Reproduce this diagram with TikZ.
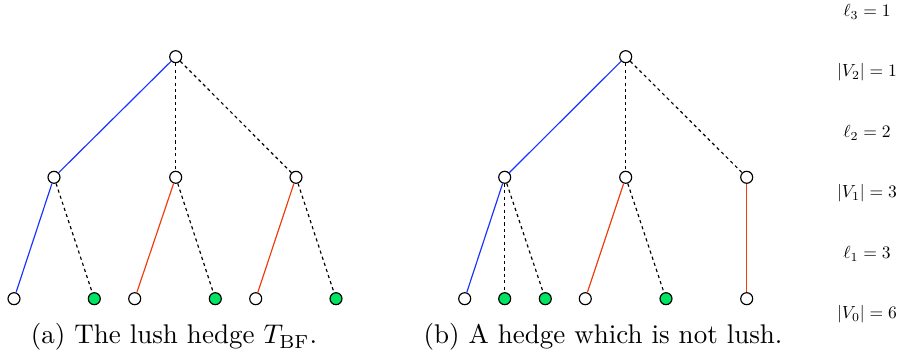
\documentclass[tikz,border=0pt]{standalone}
\usepackage{amsmath}
\definecolor{eblue}{RGB}{25,50,255}
\definecolor{ered}{RGB}{240,60,10}
\definecolor{lgreen}{RGB}{0,228,100}
\begin{document}
\begin{tikzpicture}[x=0.3425pt,y=-0.3425pt,
  vtx/.style={circle,draw=black,fill=white,inner sep=0pt,minimum size=4.1pt,line width=0.4pt},
  gvtx/.style={vtx,fill=lgreen},
  bedge/.style={draw=eblue,line width=0.4pt},
  redge/.style={draw=ered,line width=0.4pt},
  dedge/.style={draw=black,line width=0.4pt,dash pattern=on 1.1pt off 1.1pt},
  lvl/.style={font=\normalsize,inner sep=0pt,scale=0.6},
  captxt/.style={font=\normalsize,inner sep=0pt,anchor=base,scale=0.925}]
\useasboundingbox (0,0) rectangle (901,356);
% left tree
\node[vtx] (r1) at (175.7,56.7) {};
\node[vtx] (a1) at (54,177.3) {};
\node[vtx] (b1) at (175.7,177.3) {};
\node[vtx] (c1) at (296,177.3) {};
\node[vtx]  (la1) at (14,298.7) {};
\node[gvtx] (la2) at (94.3,298.7) {};
\node[vtx]  (lb1) at (134.7,298.7) {};
\node[gvtx] (lb2) at (215.3,298.7) {};
\node[vtx]  (lc1) at (255.7,298.7) {};
\node[gvtx] (lc2) at (336,298.7) {};
\draw[bedge] (r1) -- (a1);
\draw[dedge] (r1) -- (b1);
\draw[dedge] (r1) -- (c1);
\draw[bedge] (a1) -- (la1);
\draw[dedge] (a1) -- (la2);
\draw[redge] (b1) -- (lb1);
\draw[dedge] (b1) -- (lb2);
\draw[redge] (c1) -- (lc1);
\draw[dedge] (c1) -- (lc2);
% right tree
\node[vtx] (r2) at (625.7,56.7) {};
\node[vtx] (a2) at (504.7,177.3) {};
\node[vtx] (b2) at (625.7,177.3) {};
\node[vtx] (c2) at (746.7,177.3) {};
\node[vtx]  (m1) at (464.7,298.7) {};
\node[gvtx] (m2) at (504.7,298.7) {};
\node[gvtx] (m3) at (545.3,298.7) {};
\node[vtx]  (m4) at (585.3,298.7) {};
\node[gvtx] (m5) at (666,298.7) {};
\node[vtx]  (m6) at (746.7,298.7) {};
\draw[bedge] (r2) -- (a2);
\draw[dedge] (r2) -- (b2);
\draw[dedge] (r2) -- (c2);
\draw[bedge] (a2) -- (m1);
\draw[dedge] (a2) -- (m2);
\draw[dedge] (a2) -- (m3);
\draw[redge] (b2) -- (m4);
\draw[dedge] (b2) -- (m5);
\draw[redge] (c2) -- (m6);
% level labels
\node[lvl] (t1) at (867,12) {$\ell_3=1$};
\node[lvl] (t2) at (867,72.5) {$|V_2|=1$};
\node[lvl] (t3) at (867,133) {$\ell_2=2$};
\node[lvl] (t4) at (867,193.5) {$|V_1|=3$};
\node[lvl] (t5) at (867,254) {$\ell_1=3$};
\node[lvl] (t6) at (867,314.5) {$|V_0|=6$};
% captions
\node[captxt] (capa) at (174,344) {(a) The lush hedge $T_{\mathrm{BF}}$.};
\node[captxt] (capb) at (603,344) {(b) A hedge which is not lush.};
\end{tikzpicture}
\end{document}
